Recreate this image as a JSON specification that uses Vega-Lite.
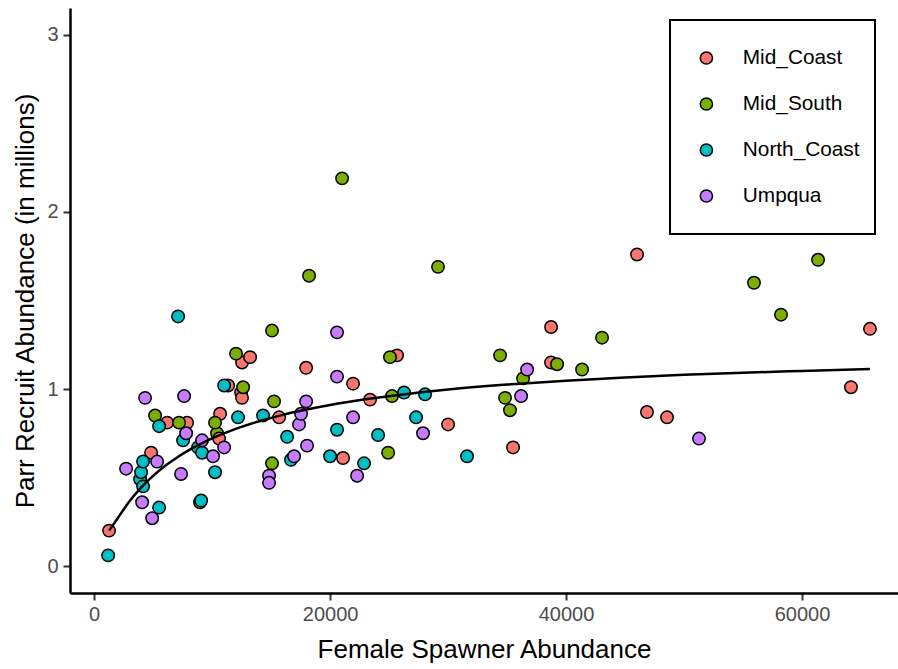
{
  "$schema": "https://vega.github.io/schema/vega-lite/v6.json",
  "width": 828,
  "height": 585,
  "autosize": {"type": "none"},
  "padding": {"left": 70, "top": 8, "right": 0, "bottom": 76},
  "background": "white",
  "config": {
    "view": {"stroke": null},
    "font": "Liberation Sans"
  },
  "datasets": {
    "pts": [
      {"region": "Mid_South", "spawners": 8980, "recruits": 0.36},
      {"region": "Mid_South", "spawners": 10420, "recruits": 0.75},
      {"region": "Mid_Coast", "spawners": 1270, "recruits": 0.20},
      {"region": "Mid_Coast", "spawners": 4830, "recruits": 0.64},
      {"region": "Mid_Coast", "spawners": 6190, "recruits": 0.81},
      {"region": "Mid_Coast", "spawners": 7880, "recruits": 0.81},
      {"region": "Mid_Coast", "spawners": 10680, "recruits": 0.86},
      {"region": "Mid_Coast", "spawners": 10590, "recruits": 0.72},
      {"region": "Mid_Coast", "spawners": 11360, "recruits": 1.02},
      {"region": "Mid_Coast", "spawners": 12460, "recruits": 0.98},
      {"region": "Mid_Coast", "spawners": 12540, "recruits": 0.95},
      {"region": "Mid_Coast", "spawners": 12540, "recruits": 1.15},
      {"region": "Mid_Coast", "spawners": 13220, "recruits": 1.18},
      {"region": "Mid_Coast", "spawners": 15680, "recruits": 0.84},
      {"region": "Mid_Coast", "spawners": 17970, "recruits": 1.12},
      {"region": "Mid_Coast", "spawners": 21100, "recruits": 0.61},
      {"region": "Mid_Coast", "spawners": 21950, "recruits": 1.03},
      {"region": "Mid_Coast", "spawners": 23390, "recruits": 0.94},
      {"region": "Mid_Coast", "spawners": 25680, "recruits": 1.19},
      {"region": "Mid_Coast", "spawners": 30000, "recruits": 0.80},
      {"region": "Mid_Coast", "spawners": 35510, "recruits": 0.67},
      {"region": "Mid_Coast", "spawners": 38730, "recruits": 1.35},
      {"region": "Mid_Coast", "spawners": 38730, "recruits": 1.15},
      {"region": "Mid_Coast", "spawners": 46020, "recruits": 1.76},
      {"region": "Mid_Coast", "spawners": 46860, "recruits": 0.87},
      {"region": "Mid_Coast", "spawners": 48560, "recruits": 0.84},
      {"region": "Mid_Coast", "spawners": 64150, "recruits": 1.01},
      {"region": "Mid_Coast", "spawners": 65760, "recruits": 1.34},
      {"region": "Mid_South", "spawners": 5170, "recruits": 0.85},
      {"region": "Mid_South", "spawners": 7200, "recruits": 0.81},
      {"region": "Mid_South", "spawners": 10250, "recruits": 0.81},
      {"region": "Mid_South", "spawners": 12030, "recruits": 1.20},
      {"region": "Mid_South", "spawners": 12630, "recruits": 1.01},
      {"region": "Mid_South", "spawners": 15080, "recruits": 1.33},
      {"region": "Mid_South", "spawners": 15250, "recruits": 0.93},
      {"region": "Mid_South", "spawners": 15080, "recruits": 0.58},
      {"region": "Mid_South", "spawners": 18220, "recruits": 1.64},
      {"region": "Mid_South", "spawners": 21020, "recruits": 2.19},
      {"region": "Mid_South", "spawners": 25080, "recruits": 1.18},
      {"region": "Mid_South", "spawners": 25250, "recruits": 0.96},
      {"region": "Mid_South", "spawners": 24920, "recruits": 0.64},
      {"region": "Mid_South", "spawners": 29150, "recruits": 1.69},
      {"region": "Mid_South", "spawners": 34410, "recruits": 1.19},
      {"region": "Mid_South", "spawners": 34830, "recruits": 0.95},
      {"region": "Mid_South", "spawners": 35250, "recruits": 0.88},
      {"region": "Mid_South", "spawners": 36360, "recruits": 1.06},
      {"region": "Mid_South", "spawners": 39240, "recruits": 1.14},
      {"region": "Mid_South", "spawners": 41360, "recruits": 1.11},
      {"region": "Mid_South", "spawners": 43050, "recruits": 1.29},
      {"region": "Mid_South", "spawners": 55930, "recruits": 1.60},
      {"region": "Mid_South", "spawners": 58220, "recruits": 1.42},
      {"region": "Mid_South", "spawners": 61360, "recruits": 1.73},
      {"region": "North_Coast", "spawners": 1190, "recruits": 0.06},
      {"region": "North_Coast", "spawners": 3900, "recruits": 0.49},
      {"region": "North_Coast", "spawners": 3980, "recruits": 0.53},
      {"region": "North_Coast", "spawners": 4150, "recruits": 0.45},
      {"region": "North_Coast", "spawners": 4150, "recruits": 0.59},
      {"region": "North_Coast", "spawners": 5510, "recruits": 0.79},
      {"region": "North_Coast", "spawners": 5510, "recruits": 0.33},
      {"region": "North_Coast", "spawners": 7120, "recruits": 1.41},
      {"region": "North_Coast", "spawners": 7540, "recruits": 0.71},
      {"region": "North_Coast", "spawners": 8810, "recruits": 0.67},
      {"region": "North_Coast", "spawners": 9150, "recruits": 0.64},
      {"region": "North_Coast", "spawners": 9070, "recruits": 0.37},
      {"region": "North_Coast", "spawners": 10250, "recruits": 0.53},
      {"region": "North_Coast", "spawners": 11020, "recruits": 1.02},
      {"region": "North_Coast", "spawners": 12200, "recruits": 0.84},
      {"region": "North_Coast", "spawners": 14320, "recruits": 0.85},
      {"region": "North_Coast", "spawners": 16360, "recruits": 0.73},
      {"region": "North_Coast", "spawners": 16690, "recruits": 0.60},
      {"region": "North_Coast", "spawners": 20000, "recruits": 0.62},
      {"region": "North_Coast", "spawners": 20590, "recruits": 0.77},
      {"region": "North_Coast", "spawners": 22880, "recruits": 0.58},
      {"region": "North_Coast", "spawners": 24070, "recruits": 0.74},
      {"region": "North_Coast", "spawners": 26270, "recruits": 0.98},
      {"region": "North_Coast", "spawners": 27290, "recruits": 0.84},
      {"region": "North_Coast", "spawners": 28050, "recruits": 0.97},
      {"region": "North_Coast", "spawners": 31610, "recruits": 0.62},
      {"region": "Umpqua", "spawners": 2710, "recruits": 0.55},
      {"region": "Umpqua", "spawners": 4070, "recruits": 0.36},
      {"region": "Umpqua", "spawners": 4320, "recruits": 0.95},
      {"region": "Umpqua", "spawners": 4920, "recruits": 0.27},
      {"region": "Umpqua", "spawners": 5340, "recruits": 0.59},
      {"region": "Umpqua", "spawners": 7370, "recruits": 0.52},
      {"region": "Umpqua", "spawners": 7630, "recruits": 0.96},
      {"region": "Umpqua", "spawners": 7800, "recruits": 0.75},
      {"region": "Umpqua", "spawners": 9150, "recruits": 0.71},
      {"region": "Umpqua", "spawners": 10080, "recruits": 0.62},
      {"region": "Umpqua", "spawners": 11020, "recruits": 0.67},
      {"region": "Umpqua", "spawners": 14830, "recruits": 0.51},
      {"region": "Umpqua", "spawners": 14830, "recruits": 0.47},
      {"region": "Umpqua", "spawners": 16950, "recruits": 0.62},
      {"region": "Umpqua", "spawners": 17370, "recruits": 0.80},
      {"region": "Umpqua", "spawners": 17540, "recruits": 0.86},
      {"region": "Umpqua", "spawners": 17970, "recruits": 0.93},
      {"region": "Umpqua", "spawners": 18050, "recruits": 0.68},
      {"region": "Umpqua", "spawners": 20590, "recruits": 1.32},
      {"region": "Umpqua", "spawners": 20590, "recruits": 1.07},
      {"region": "Umpqua", "spawners": 21950, "recruits": 0.84},
      {"region": "Umpqua", "spawners": 22290, "recruits": 0.51},
      {"region": "Umpqua", "spawners": 27880, "recruits": 0.75},
      {"region": "Umpqua", "spawners": 36190, "recruits": 0.96},
      {"region": "Umpqua", "spawners": 36700, "recruits": 1.11},
      {"region": "Umpqua", "spawners": 51270, "recruits": 0.72}
    ],
    "fit": [
      {"spawners": 1270, "recruits": 0.20},
      {"spawners": 2000, "recruits": 0.27},
      {"spawners": 3000, "recruits": 0.366},
      {"spawners": 4000, "recruits": 0.444},
      {"spawners": 5000, "recruits": 0.509},
      {"spawners": 6000, "recruits": 0.565},
      {"spawners": 7000, "recruits": 0.612},
      {"spawners": 8000, "recruits": 0.653},
      {"spawners": 9000, "recruits": 0.689},
      {"spawners": 10000, "recruits": 0.721},
      {"spawners": 12000, "recruits": 0.775},
      {"spawners": 14000, "recruits": 0.818},
      {"spawners": 16000, "recruits": 0.854},
      {"spawners": 18000, "recruits": 0.884},
      {"spawners": 20000, "recruits": 0.910},
      {"spawners": 23000, "recruits": 0.942},
      {"spawners": 26000, "recruits": 0.968},
      {"spawners": 30000, "recruits": 0.997},
      {"spawners": 35000, "recruits": 1.025},
      {"spawners": 40000, "recruits": 1.047},
      {"spawners": 45000, "recruits": 1.065},
      {"spawners": 50000, "recruits": 1.080},
      {"spawners": 55000, "recruits": 1.092},
      {"spawners": 60000, "recruits": 1.102},
      {"spawners": 65760, "recruits": 1.113}
    ]
  },
  "encoding": {
    "x": {
      "field": "spawners",
      "type": "quantitative",
      "scale": {"domain": [-2043, 68136], "nice": false, "zero": false},
      "axis": {
        "title": "Female Spawner Abundance",
        "values": [0, 20000, 40000, 60000],
        "format": "d",
        "grid": false,
        "domainColor": "black",
        "domainWidth": 2.5,
        "tickColor": "#333333",
        "tickWidth": 2,
        "tickSize": 7,
        "labelFontSize": 20,
        "labelColor": "#4d4d4d",
        "labelPadding": 4,
        "titleFontSize": 26,
        "titleFontWeight": "normal",
        "titleColor": "black",
        "titlePadding": 12
      }
    },
    "y": {
      "field": "recruits",
      "type": "quantitative",
      "scale": {"domain": [-0.1525, 3.1525], "nice": false, "zero": false},
      "axis": {
        "title": "Parr Recruit Abundance (in millions)",
        "values": [0, 1, 2, 3],
        "format": "d",
        "grid": false,
        "domainColor": "black",
        "domainWidth": 2.5,
        "tickColor": "#333333",
        "tickWidth": 2,
        "tickSize": 7,
        "labelFontSize": 20,
        "labelColor": "#4d4d4d",
        "labelPadding": 5,
        "titleFontSize": 26,
        "titleFontWeight": "normal",
        "titleColor": "black",
        "titlePadding": 8
      }
    }
  },
  "layer": [
    {
      "data": {"name": "pts"},
      "mark": {"type": "point", "shape": "circle", "filled": true, "stroke": "black", "strokeWidth": 1.5, "size": 155, "opacity": 1},
      "encoding": {
        "color": {
          "field": "region",
          "type": "nominal",
          "scale": {"domain": ["Mid_Coast", "Mid_South", "North_Coast", "Umpqua"], "range": ["#F8766D", "#7CAE00", "#00BFC4", "#C77CFF"]},
          "legend": {
            "orient": "none",
            "legendX": 600,
            "legendY": 12,
            "title": null,
            "padding": 15,
            "strokeColor": "black",
            "fillColor": "white",
            "clipHeight": 46,
            "rowPadding": 0,
            "symbolType": "circle",
            "symbolSize": 150,
            "symbolOffset": 11,
            "symbolStrokeColor": "black",
            "symbolStrokeWidth": 1.5,
            "symbolOpacity": 1,
            "labelOffset": 26,
            "labelFontSize": 20.8,
            "labelColor": "black",
            "encode": {"legend": {"update": {"strokeWidth": {"value": 2}}}}
          }
        }
      }
    },
    {
      "data": {"name": "fit"},
      "mark": {"type": "line", "color": "black", "strokeWidth": 2.5, "interpolate": "monotone"},
      "encoding": {}
    }
  ]
}
